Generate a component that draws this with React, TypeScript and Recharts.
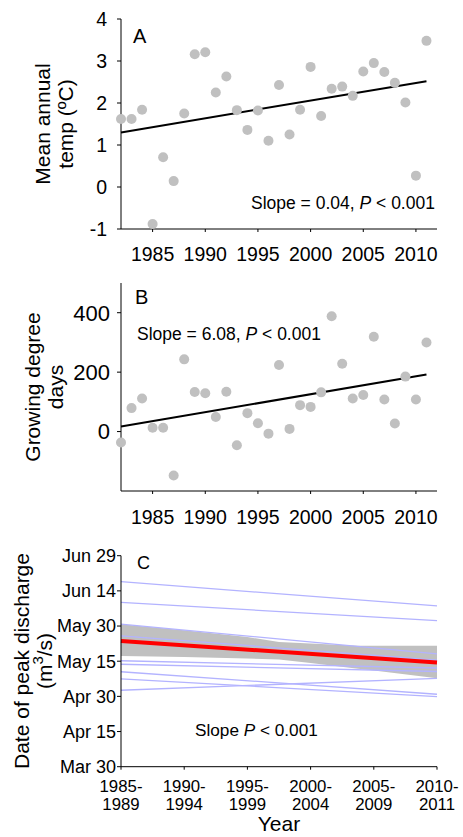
import React from "react";
import {
  ComposedChart,
  XAxis,
  YAxis,
  Scatter,
  Line,
  Area,
} from "recharts";

const FONT = "'Liberation Sans', Arial, sans-serif";

// years of panels A and B
const years = [
  1982, 1983, 1984, 1985, 1986, 1987, 1988, 1989, 1990, 1991,
  1992, 1993, 1994, 1995, 1996, 1997, 1998, 1999, 2000, 2001,
  2002, 2003, 2004, 2005, 2006, 2007, 2008, 2009, 2010, 2011,
];
const yearTicks = [1985, 1990, 1995, 2000, 2005, 2010];

// A: mean annual temperature (ºC)
const meanTemp = [
  1.62, 1.62, 1.84, -0.88, 0.71, 0.14, 1.75, 3.16, 3.21, 2.25,
  2.63, 1.83, 1.36, 1.82, 1.1, 2.43, 1.25, 1.84, 2.86, 1.69,
  2.34, 2.39, 2.17, 2.75, 2.95, 2.74, 2.48, 2.01, 0.27, 3.48,
];
const tempFitYears = [1982, 2011];
const tempFit = [1.3, 2.52];

// B: growing degree days
const gdd = [
  -37, 79, 111, 13, 13, -148, 243, 133, 129, 49,
  134, -46, 62, 28, -7, 224, 9, 89, 83, 132,
  388, 228, 111, 123, 319, 108, 27, 185, 108, 300,
];
const gddFitYears = [1982, 2011];
const gddFit = [17, 192];

// C: date of peak discharge, in days after Mar 30
const periods = ["1985-1989", "1990-1994", "1995-1999", "2000-2004", "2005-2009", "2010-2011"];
const dateTickLabels = ["Mar 30", "Apr 15", "Apr 30", "May 15", "May 30", "Jun 14", "Jun 29"];
const dateTicks = [0, 15, 30, 45, 60, 75, 90];
const siteStart = [78.9, 70.1, 60.8, 55.8, 45.2, 43.7, 40.5, 37.5, 32.6];
const siteEnd = [68.6, 62.3, 48.1, 45.5, 42.1, 40.6, 30.9, 29.9, 37.7];
const meanStart = 53.6;
const meanEnd = 44.4;
const bandX = [0, 1, 2, 2.5, 3, 3.75, 4, 5];
const bandHigh = [60.75, 58.2, 55.3, 53.2, 52.6, 51.6, 51.6, 51.6];
const bandLow = [47.2, 46.8, 46.2, 45.7, 44.2, 41.8, 41.0, 37.7];

const tempData = years.map((year, i) => ({ year, y: meanTemp[i] }));
const tempFitData = tempFitYears.map((year, i) => ({ year, y: tempFit[i] }));
const gddData = years.map((year, i) => ({ year, y: gdd[i] }));
const gddFitData = gddFitYears.map((year, i) => ({ year, y: gddFit[i] }));
const bandData = bandX.map((p, i) => ({ p, range: [bandLow[i], bandHigh[i]] }));
const siteLines = siteStart.map((s, i) => [
  { p: 0, d: s },
  { p: 5, d: siteEnd[i] },
]);
const meanLine = [
  { p: 0, d: meanStart },
  { p: 5, d: meanEnd },
];

const dot = (props: any) => <circle cx={props.cx} cy={props.cy} r={5} fill="#c0c0c0" />;

const axisLine = { stroke: "#000", strokeWidth: 1 };

const PeriodTick = (props: any) => {
  const { x, y, payload } = props;
  const [a, b] = periods[payload.value].split("-");
  return (
    <text x={x} y={y} textAnchor="middle" fontSize={16.8} fontFamily={FONT} fill="#000">
      <tspan x={x} dy="0.71em">{a}-</tspan>
      <tspan x={x} dy={18.3}>{b}</tspan>
    </text>
  );
};

const App = () => {
  return (
    <div style={{ position: "absolute", left: 0, top: 0, width: 463, height: 837, background: "#fff", fontFamily: FONT }}>
      <div style={{ position: "absolute", left: 0, top: 0 }}>
        <ComposedChart width={463} height={275} margin={{ top: 19, right: 26, bottom: 0, left: 0 }}>
          <XAxis
            type="number"
            dataKey="year"
            domain={[1982, 2012]}
            ticks={yearTicks}
            interval={0}
            height={46}
            tickSize={3}
            tickMargin={15}
            axisLine={axisLine}
            tickLine={axisLine}
            tick={{ fontSize: 19.5, fill: "#000", fontFamily: FONT }}
          />
          <YAxis
            type="number"
            dataKey="y"
            domain={[-1, 4]}
            ticks={[-1, 0, 1, 2, 3, 4]}
            interval={0}
            width={121}
            tickSize={4}
            tickMargin={10}
            axisLine={axisLine}
            tickLine={axisLine}
            tick={{ fontSize: 19.5, fill: "#000", fontFamily: FONT }}
          />
          <Scatter data={tempData} dataKey="y" shape={dot} isAnimationActive={false} />
          <Line data={tempFitData} dataKey="y" stroke="#000" strokeWidth={2} dot={false} isAnimationActive={false} />
          <text x={133} y={43} fontSize={20} fontFamily={FONT} fill="#000">A</text>
          <text x={251} y={209} fontSize={17.5} fontFamily={FONT} fill="#000">
            Slope = 0.04, <tspan fontStyle="italic">P</tspan> &lt; 0.001
          </text>
          <text transform="rotate(-90)" x={-124} y={50} textAnchor="middle" fontSize={21} fontFamily={FONT} fill="#000">
            Mean annual
          </text>
          <text transform="rotate(-90)" x={-124} y={73} textAnchor="middle" fontSize={21} fontFamily={FONT} fill="#000">
            temp (ºC)
          </text>
        </ComposedChart>
      </div>

      <div style={{ position: "absolute", left: 0, top: 275 }}>
        <ComposedChart width={463} height={260} margin={{ top: 8, right: 26, bottom: 0, left: 0 }}>
          <XAxis
            type="number"
            dataKey="year"
            domain={[1982, 2012]}
            ticks={yearTicks}
            interval={0}
            height={44}
            tickSize={3}
            tickMargin={16}
            axisLine={axisLine}
            tickLine={axisLine}
            tick={{ fontSize: 19.5, fill: "#000", fontFamily: FONT }}
          />
          <YAxis
            type="number"
            dataKey="y"
            domain={[-200, 500]}
            ticks={[0, 200, 400]}
            interval={0}
            width={121}
            tickSize={4}
            tickMargin={7}
            axisLine={axisLine}
            tickLine={axisLine}
            tick={{ fontSize: 22, fill: "#000", fontFamily: FONT }}
          />
          <Scatter data={gddData} dataKey="y" shape={dot} isAnimationActive={false} />
          <Line data={gddFitData} dataKey="y" stroke="#000" strokeWidth={2} dot={false} isAnimationActive={false} />
          <text x={135} y={29} fontSize={20} fontFamily={FONT} fill="#000">B</text>
          <text x={137} y={65} fontSize={17.5} fontFamily={FONT} fill="#000">
            Slope = 6.08, <tspan fontStyle="italic">P</tspan> &lt; 0.001
          </text>
          <text transform="rotate(-90)" x={-112} y={40} textAnchor="middle" fontSize={21} fontFamily={FONT} fill="#000">
            Growing degree
          </text>
          <text transform="rotate(-90)" x={-112} y={63} textAnchor="middle" fontSize={21} fontFamily={FONT} fill="#000">
            days
          </text>
        </ComposedChart>
      </div>

      <div style={{ position: "absolute", left: 0, top: 535 }}>
        <ComposedChart width={463} height={302} margin={{ top: 20.7, right: 26, bottom: 0, left: 0 }}>
          <XAxis
            type="number"
            dataKey="p"
            domain={[0, 5]}
            ticks={[0, 1, 2, 3, 4, 5]}
            interval={0}
            height={70.3}
            tickSize={3}
            tickMargin={10}
            axisLine={axisLine}
            tickLine={axisLine}
            tick={<PeriodTick />}
          />
          <YAxis
            type="number"
            domain={[0, 90]}
            ticks={dateTicks}
            interval={0}
            width={121}
            tickSize={4}
            tickMargin={1}
            axisLine={axisLine}
            tickLine={axisLine}
            tickFormatter={(v: number) => dateTickLabels[dateTicks.indexOf(v)]}
            tick={{ fontSize: 18, fill: "#000", fontFamily: FONT }}
          />
          <Area
            data={bandData}
            dataKey="range"
            type="linear"
            stroke="none"
            fill="#c0c0c0"
            fillOpacity={1}
            isAnimationActive={false}
          />
          {siteLines.map((d, i) => (
            <Line
              key={i}
              data={d}
              dataKey="d"
              stroke="#b3b3ff"
              strokeWidth={1.3}
              dot={false}
              isAnimationActive={false}
            />
          ))}
          <Line data={meanLine} dataKey="d" stroke="#ff0000" strokeWidth={4} dot={false} isAnimationActive={false} />
          <text x={137} y={34} fontSize={18} fontFamily={FONT} fill="#000">C</text>
          <text x={195} y={201} fontSize={17.2} fontFamily={FONT} fill="#000">
            Slope <tspan fontStyle="italic">P</tspan> &lt; 0.001
          </text>
          <text transform="rotate(-90)" x={-126} y={29} textAnchor="middle" fontSize={21} fontFamily={FONT} fill="#000">
            Date of peak discharge
          </text>
          <text transform="rotate(-90)" x={-126} y={52} textAnchor="middle" fontSize={21} fontFamily={FONT} fill="#000">
            (m<tspan dy={-9} fontSize={15}>3</tspan><tspan dy={9}>/s)</tspan>
          </text>
          <text x={279} y={296} textAnchor="middle" fontSize={21} fontFamily={FONT} fill="#000">
            Year
          </text>
        </ComposedChart>
      </div>
    </div>
  );
};

export default App;
